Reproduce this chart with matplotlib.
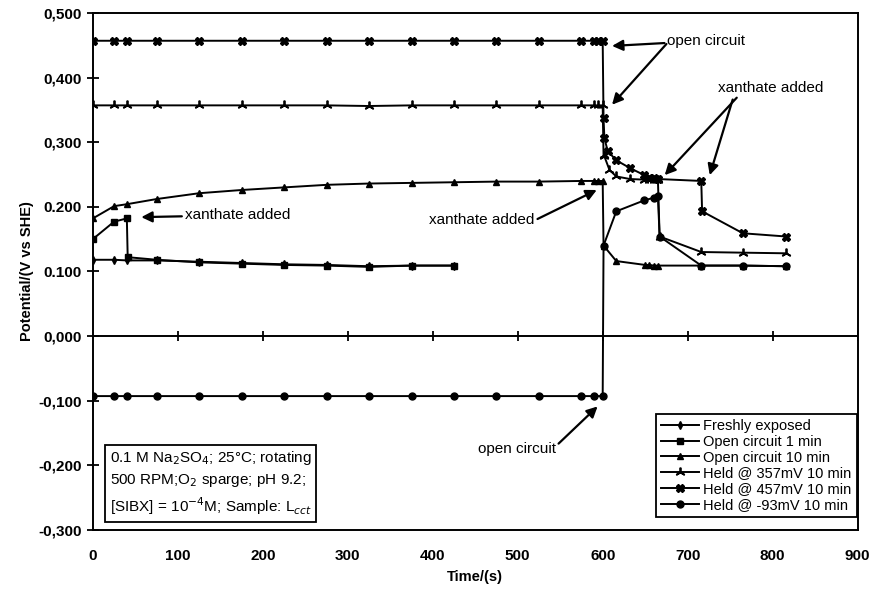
import matplotlib
matplotlib.use("Agg")
import matplotlib.pyplot as plt

plt.rcParams.update({
    "font.family": ["Liberation Sans", "DejaVu Sans"],
    "font.size": 10,
    "axes.linewidth": 1.4,
})

# --- data (time in s, potential in V vs SHE) ---
t_fresh = [0, 25, 40, 75, 125, 175, 225, 275, 325, 375, 425]
v_fresh = [0.118, 0.118, 0.117, 0.117, 0.115, 0.113, 0.111, 0.110, 0.108, 0.109, 0.109]

t_oc1 = [0, 25, 40, 41, 75, 125, 175, 225, 275, 325, 375, 425]
v_oc1 = [0.150, 0.177, 0.182, 0.122, 0.118, 0.114, 0.112, 0.110, 0.109, 0.107, 0.109, 0.109]

t_oc10 = [0, 25, 40, 75, 125, 175, 225, 275, 325, 375, 425, 475, 525, 575, 590, 595, 600,
          601, 616, 650, 655, 660, 665, 716, 765, 816]
v_oc10 = [0.182, 0.201, 0.204, 0.212, 0.221, 0.226, 0.230, 0.234, 0.236, 0.237, 0.238, 0.239,
          0.239, 0.240, 0.240, 0.240, 0.240,
          0.140, 0.116, 0.110, 0.110, 0.109, 0.109, 0.109, 0.109, 0.108]

t_h357 = [0, 25, 40, 75, 125, 175, 225, 275, 325, 375, 425, 475, 525, 575, 590, 595, 600,
          601, 602, 608, 616, 632, 649, 655, 660, 665, 667, 716, 765, 816]
v_h357 = [0.357, 0.357, 0.357, 0.357, 0.357, 0.357, 0.357, 0.357, 0.356, 0.357, 0.357, 0.357,
          0.357, 0.357, 0.357, 0.357, 0.357,
          0.280, 0.278, 0.257, 0.247, 0.243, 0.242, 0.242, 0.241, 0.241, 0.154, 0.130, 0.129, 0.128]

t_h457 = [0, 25, 40, 75, 125, 175, 225, 275, 325, 375, 425, 475, 525, 575, 590, 595, 600,
          601, 602, 606, 616, 632, 649, 655, 660, 665, 716, 717, 765, 816]
v_h457 = [0.457, 0.457, 0.457, 0.457, 0.457, 0.457, 0.457, 0.457, 0.457, 0.457, 0.457, 0.457,
          0.457, 0.457, 0.457, 0.457, 0.457,
          0.337, 0.306, 0.286, 0.272, 0.260, 0.249, 0.245, 0.244, 0.243, 0.240, 0.193, 0.159, 0.154]

t_hm93 = [0, 25, 40, 75, 125, 175, 225, 275, 325, 375, 425, 475, 525, 575, 590, 600,
          601, 616, 649, 660, 665, 667, 716, 765, 816]
v_hm93 = [-0.093, -0.093, -0.093, -0.093, -0.093, -0.093, -0.093, -0.093, -0.093, -0.093,
          -0.093, -0.093, -0.093, -0.093, -0.093, -0.093,
          0.140, 0.193, 0.210, 0.214, 0.216, 0.154, 0.109, 0.109, 0.108]

x_ticks = [0, 100, 200, 300, 400, 500, 600, 700, 800, 900]
y_ticks = [-0.3, -0.2, -0.1, 0.0, 0.1, 0.2, 0.3, 0.4, 0.5]
y_ticklabels = ["-0,300", "-0,200", "-0,100", "0,000", "0.100", "0.200", "0,300", "0,400", "0,500"]

fig = plt.figure(figsize=(8.76, 5.9), dpi=100)
ax = fig.add_axes([0.106, 0.102, 0.873, 0.876])

K = "black"
ax.plot(t_fresh, v_fresh, color=K, lw=1.4, marker="d", ms=4, label="Freshly exposed")
ax.plot(t_oc1, v_oc1, color=K, lw=1.4, marker="s", ms=5, label="Open circuit 1 min")
ax.plot(t_oc10, v_oc10, color=K, lw=1.4, marker="^", ms=5, label="Open circuit 10 min")
ax.plot(t_h357, v_h357, color=K, lw=1.4, marker=(3, 2, 0), ms=7, mew=1.3,
        label="Held @ 357mV 10 min")
ax.plot(t_h457, v_h457, color=K, lw=1.4, marker="X", ms=6, label="Held @ 457mV 10 min")
ax.plot(t_hm93, v_hm93, color=K, lw=1.4, marker="o", ms=5, label="Held @ -93mV 10 min")

ax.set_xlim(0, 900)
ax.set_ylim(-0.3, 0.5)
ax.set_xticks(x_ticks)
ax.set_yticks(y_ticks)
ax.set_yticklabels(y_ticklabels)
ax.tick_params(axis="x", length=0, pad=14, labelsize=11)
ax.tick_params(axis="y", direction="inout", length=8, width=1.3, pad=4, labelsize=11)
for lab in ax.get_xticklabels() + ax.get_yticklabels():
    lab.set_fontweight("bold")

# horizontal axis crossing at zero with cross tick marks
ax.axhline(0, color=K, lw=1.4, zorder=1)
ax.vlines(x_ticks[1:], -0.007, 0.007, color=K, lw=1.3)

ax.set_xlabel("Time/(s)", fontweight="bold", fontsize=10.5, labelpad=5)
ax.set_ylabel("Potential/(V vs SHE)", fontweight="bold", fontsize=10.5, labelpad=3)

FS = 11
arrow = dict(arrowstyle="-|>", color=K, lw=1.6, mutation_scale=16, shrinkA=0, shrinkB=0)
ax.annotate("xanthate added", xy=(57, 0.184), xytext=(108, 0.187), va="center", ha="left",
            fontsize=FS, arrowprops=arrow)
ax.annotate("open circuit", xy=(611, 0.449), xytext=(676, 0.457), va="center", ha="left",
            fontsize=FS, arrowprops=arrow)
ax.annotate("", xy=(611, 0.358), xytext=(675, 0.452), arrowprops=arrow)
ax.annotate("xanthate added", xy=(673, 0.249), xytext=(736, 0.384), va="center", ha="left",
            fontsize=FS, arrowprops=dict(arrow, relpos=(0.2, 0.0)))
ax.annotate("", xy=(726, 0.249), xytext=(753, 0.366), arrowprops=arrow)
ax.annotate("xanthate added", xy=(593, 0.226), xytext=(396, 0.179), va="center", ha="left",
            fontsize=FS, arrowprops=dict(arrow, relpos=(1.0, 0.5)))
ax.annotate("open circuit", xy=(594, -0.109), xytext=(453, -0.175), va="center", ha="left",
            fontsize=FS, arrowprops=dict(arrow, relpos=(1.0, 0.7)))

ax.text(0.022, 0.024,
        "0.1 M Na$_2$SO$_4$; 25°C; rotating\n500 RPM;O$_2$ sparge; pH 9.2;\n"
        "[SIBX] = 10$^{-4}$M; Sample: L$_{cct}$",
        transform=ax.transAxes, ha="left", va="bottom", fontsize=11, linespacing=1.4,
        bbox=dict(boxstyle="square,pad=0.3", fc="white", ec=K, lw=1.3))

leg = ax.legend(loc="lower right", bbox_to_anchor=(0.999, 0.025), borderaxespad=0,
                fancybox=False, edgecolor=K, framealpha=1, fontsize=10.5, labelspacing=0.12,
                handlelength=2.6, handletextpad=0.3, borderpad=0.35, numpoints=1)
leg.get_frame().set_linewidth(1.3)

fig.savefig("out.png", dpi=100)
